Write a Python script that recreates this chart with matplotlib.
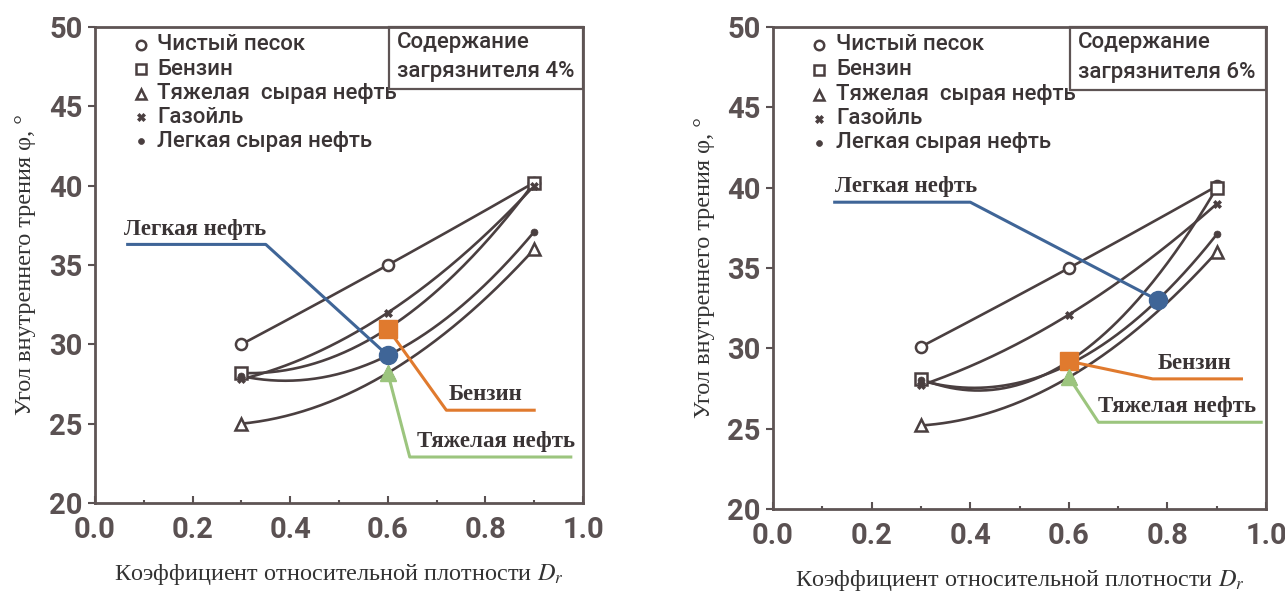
import numpy as np
import matplotlib
matplotlib.use("Agg")
import matplotlib.pyplot as plt

# Relative density values (x) shared by all series
dr = [0.3, 0.6, 0.9]

series_names = ["Чистый песок", "Бензин", "Тяжелая  сырая нефть", "Газойль", "Легкая сырая нефть"]

# Friction angle, contaminant content 4 %
phi_4 = {
    "Чистый песок":          [30.0, 35.0, 40.2],
    "Бензин":                [28.2, 31.0, 40.2],
    "Тяжелая  сырая нефть":  [25.0, 28.2, 36.0],
    "Газойль":               [27.8, 32.0, 40.0],
    "Легкая сырая нефть":    [28.0, 29.3, 37.1],
}

# Friction angle, contaminant content 6 %
phi_6 = {
    "Чистый песок":          [30.1, 35.0, 40.1],
    "Бензин":                [28.1, 29.2, 40.0],
    "Тяжелая  сырая нефть":  [25.2, 28.2, 36.0],
    "Газойль":               [27.7, 32.1, 39.0],
    "Легкая сырая нефть":    [28.0, 29.0, 37.1],
}

# Callouts: (label, series, x of anchor on curve, text x, elbow, line end x, colour, marker)
callouts_4 = [
    ("Легкая нефть", "Легкая сырая нефть", 0.6, 0.06, (0.35, 36.3), 0.067, "#3f6597", "o"),
    ("Бензин", "Бензин", 0.6, 0.725, (0.72, 25.85), 0.90, "#e07a2e", "s"),
    ("Тяжелая нефть", "Тяжелая  сырая нефть", 0.6, 0.66, (0.645, 22.9), 0.975, "#9cc57e", "^"),
]
callouts_6 = [
    ("Легкая нефть", "Легкая сырая нефть", 0.78, 0.125, (0.40, 39.1), 0.125, "#3f6597", "o"),
    ("Бензин", "Бензин", 0.6, 0.78, (0.77, 28.1), 0.95, "#e07a2e", "s"),
    ("Тяжелая нефть", "Тяжелая  сырая нефть", 0.6, 0.66, (0.66, 25.4), 0.99, "#9cc57e", "^"),
]

INK = "#4a3f40"
SPINE = "#5e5454"
TICKC = "#5a5152"
TXT = "#3a3435"

marker_style = {
    "Чистый песок":         dict(marker="o", ms=8, mfc="white", mec=INK, mew=1.8),
    "Бензин":               dict(marker="s", ms=8, mfc="white", mec=INK, mew=1.8),
    "Тяжелая  сырая нефть": dict(marker="^", ms=8, mfc="white", mec=INK, mew=1.8),
    "Газойль":              dict(marker="X", ms=6, mfc=INK, mec=INK, mew=0.5),
    "Легкая сырая нефть":   dict(marker="o", ms=5, mfc=INK, mec=INK, mew=0.5),
}

SANS = "Roboto"
SERIF = "Liberation Serif"

plt.rcParams["mathtext.fontset"] = "stix"


def curve(xs, ys):
    return np.poly1d(np.polyfit(xs, ys, 2))


def draw_panel(ax, data, callouts, content):
    xs = np.array(dr)
    fine = np.linspace(xs[0], xs[-1], 200)
    for name in series_names:
        ys = data[name]
        f = curve(xs, ys)
        ax.plot(fine, f(fine), color=INK, lw=1.9, zorder=2)
        ax.plot(xs, ys, ls="none", zorder=3, **marker_style[name])

    for label, name, xa, xt, elbow, xend, col, mk in callouts:
        f = curve(xs, data[name])
        ya = float(f(xa))
        if xend < elbow[0]:
            # leader from the left: underline, then diagonal down to the point
            ax.plot([xend, elbow[0], xa], [elbow[1], elbow[1], ya], color=col, lw=2.2, zorder=4)
        else:
            ax.plot([xa, elbow[0], xend], [ya, elbow[1], elbow[1]], color=col, lw=2.2, zorder=4)
        ax.text(xt, elbow[1] + 0.3, label, family=SERIF, fontsize=16.5,
                fontweight="bold", color=TXT, ha="left", va="bottom", zorder=6)
        ax.plot([xa], [ya], marker=mk, ms=13 if mk != "^" else 12, color=col, mec=col,
                ls="none", zorder=5)

    # series key in the upper left corner
    ys_key = [48.9, 47.35, 45.8, 44.3, 42.8]
    for name, yk in zip(series_names, ys_key):
        st = dict(marker_style[name])
        st["ms"] = st["ms"] * 0.85
        ax.plot([0.094], [yk], ls="none", zorder=5, **st)
        ax.text(0.128, yk, name, family=SANS, fontsize=16, fontweight="medium",
                color=TXT, ha="left", va="center", zorder=6)

    # content box in the upper right corner
    ax.add_patch(plt.Rectangle((0.602, 46.1), 0.398, 3.9, transform=ax.transData,
                               fill=False, ec=SPINE, lw=1.6, zorder=6, clip_on=False))
    ax.text(0.618, 49.05, "Содержание", family=SANS, fontsize=16, fontweight="medium",
            color=TXT, ha="left", va="center")
    ax.text(0.618, 47.2, "загрязнителя " + content, family=SANS, fontsize=16,
            fontweight="medium", color=TXT, ha="left", va="center")

    ax.set_xlim(0, 1.0)
    ax.set_ylim(20, 50)
    ax.set_xticks([0.0, 0.2, 0.4, 0.6, 0.8, 1.0])
    ax.set_xticklabels(["0.0", "0.2", "0.4", "0.6", "0.8", "1.0"])
    ax.set_xticks(np.arange(0.1, 1.0, 0.2), minor=True)
    ax.set_yticks([20, 25, 30, 35, 40, 45, 50])
    ax.tick_params(axis="x", which="major", direction="in", length=5, width=1.5,
                   color=TICKC, pad=9)
    ax.tick_params(axis="x", which="minor", direction="in", length=2, width=1.5, color=TICKC)
    ax.tick_params(axis="y", which="major", direction="out", length=5, width=1.5,
                   color=TICKC, pad=4)
    for lab in ax.get_xticklabels() + ax.get_yticklabels():
        lab.set_family(SANS)
        lab.set_fontsize(21)
        lab.set_fontweight("bold")
        lab.set_color("#5a5152")
    for sp in ax.spines.values():
        sp.set_color(SPINE)
        sp.set_linewidth(2.0)

    ax.set_ylabel("Угол внутреннего трения φ, °", family=SERIF, fontsize=17.5,
                  color="#333333", labelpad=9)
    ax.set_xlabel("Коэффициент относительной плотности $\\mathit{D_r}$", family=SERIF,
                  fontsize=17.5, color="#333333", labelpad=13)


fig = plt.figure(figsize=(12.85, 5.92), dpi=100)
ax1 = fig.add_axes([0.0739, 0.1503, 0.3798, 0.804])
ax2 = fig.add_axes([0.6016, 0.1402, 0.3837, 0.814])

draw_panel(ax1, phi_4, callouts_4, "4%")
draw_panel(ax2, phi_6, callouts_6, "6%")

fig.savefig("out.png", dpi=100, facecolor="white")
